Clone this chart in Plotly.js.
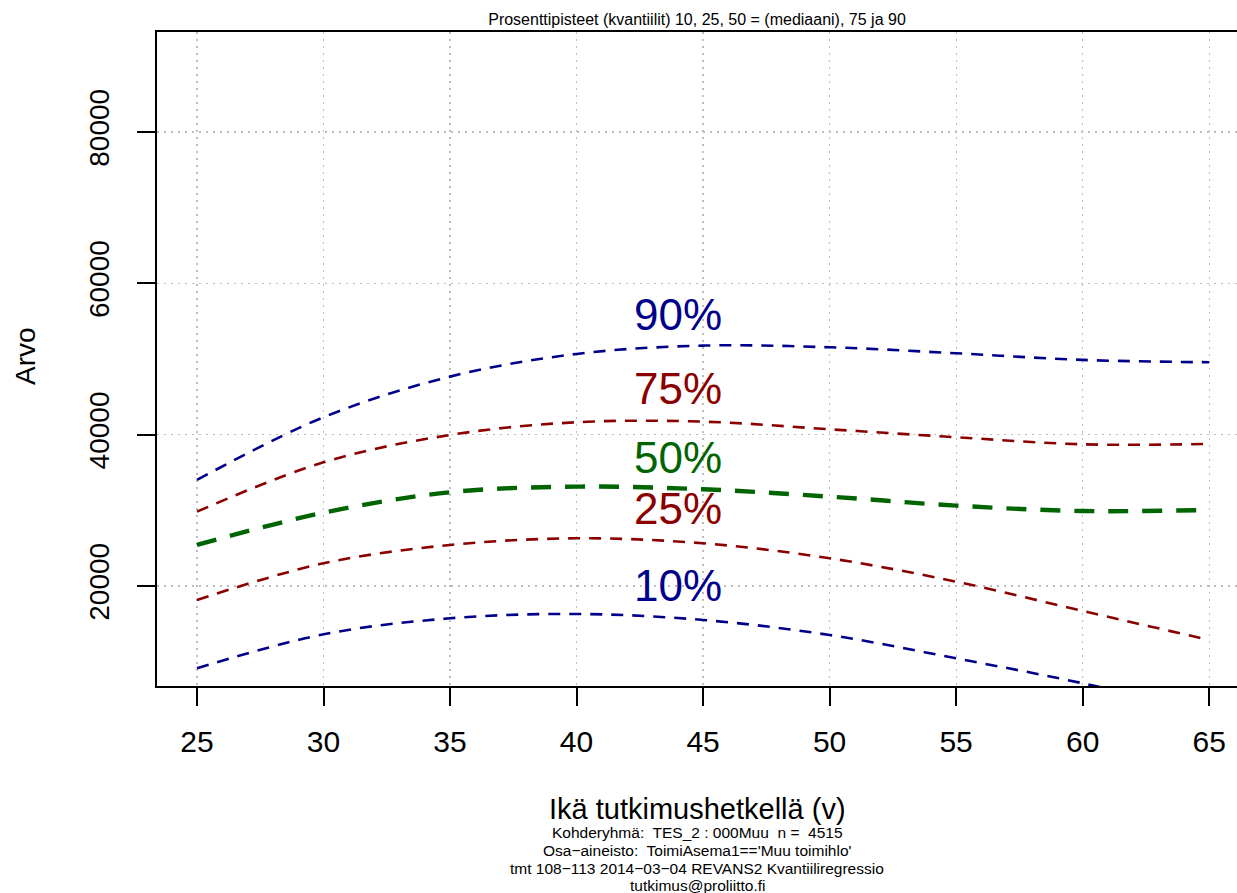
<!DOCTYPE html>
<html>
<head>
<meta charset="utf-8">
<script src="https://cdn.plot.ly/plotly-3.0.1.min.js"></script>
<style>html,body{margin:0;padding:0;background:#fff;}#chart{width:1237px;height:893px;}</style>
</head>
<body>
<div id="chart"></div>
<script>
// ---- data ----
const ages = [25, 30, 35, 40, 45, 50, 55, 60, 65];
const p90 = [34010, 42300, 47670, 50670, 51770, 51550, 50760, 49880, 49570];
const p75 = [29820, 36350, 39960, 41640, 41720, 40710, 39660, 38730, 38770];
const p50 = [25420, 29690, 32390, 33130, 32780, 31810, 30620, 29910, 30050];
const p25 = [18150, 23000, 25420, 26300, 25640, 23660, 20570, 16700, 12860];
const p10 = [9120, 13610, 15730, 16300, 15510, 13520, 10440, 7140, 3200];

const labelText = ['90%', '75%', '50%', '25%', '10%'];
const labelX = [44, 44, 44, 44, 44];
const labelY = [55820, 46040, 36990, 30180, 20000];

const xTicks = [25, 30, 35, 40, 45, 50, 55, 60, 65];
const yTicks = [20000, 40000, 60000, 80000];

const titleText = 'Prosenttipisteet (kvantiilit) 10, 25, 50 = (mediaani), 75 ja 90';
const xTitle = 'Ikä tutkimushetkellä (v)';
const yTitle = 'Arvo';
const footLines = [
  'Kohderyhmä:  TES_2 : 000Muu  n =  4515',
  "Osa\u2212aineisto:  ToimiAsema1=='Muu toimihlo'",
  'tmt 108\u2212113 2014\u221203\u221204 REVANS2 Kvantiiliregressio',
  'tutkimus@proliitto.fi'
];

// ---- styling ----
const BLUE = '#00008B', RED = '#8B0000', GREEN = '#006400';
const FONT = 'Liberation Sans, Arial, sans-serif';
const thinDash = '12px,9px';
const series = [
  {y: p90, color: BLUE, width: 2.6, dash: thinDash},
  {y: p75, color: RED, width: 2.6, dash: thinDash},
  {y: p50, color: GREEN, width: 4.4, dash: '20px,14px'},
  {y: p25, color: RED, width: 2.6, dash: thinDash},
  {y: p10, color: BLUE, width: 2.6, dash: thinDash}
];
const labelColors = [BLUE, RED, GREEN, RED, BLUE];

const traces = series.map(s => ({
  x: ages, y: s.y, type: 'scatter', mode: 'lines',
  line: {color: s.color, width: s.width, dash: s.dash, shape: 'spline', smoothing: 1},
  hoverinfo: 'skip', showlegend: false
}));

const annotations = labelText.map((t, i) => ({
  x: labelX[i], y: labelY[i], xref: 'x', yref: 'y', text: t, showarrow: false,
  xanchor: 'center', yanchor: 'middle',
  font: {family: FONT, size: 44, color: labelColors[i]}
}));

// axis titles and footnote lines (paper coordinates)
const plotLeft = 157, plotW = 1237 - 157;
const plotTop = 32, plotBottom = 686, plotH = plotBottom - plotTop;
const py = p => (plotBottom - p) / plotH;
const px = p => (p - plotLeft) / plotW;
annotations.push({
  x: 0.5, y: py(809), xref: 'paper', yref: 'paper', text: xTitle, showarrow: false,
  xanchor: 'center', yanchor: 'middle', font: {family: FONT, size: 29, color: '#000'}
});
const footY = [832, 850, 868, 885];
footLines.forEach((t, i) => annotations.push({
  x: 0.5, y: py(footY[i]), xref: 'paper', yref: 'paper', text: t, showarrow: false,
  xanchor: 'center', yanchor: 'middle', font: {family: FONT, size: 15.5, color: '#000'}
}));
annotations.push({
  x: px(25), y: py(356), xref: 'paper', yref: 'paper', text: yTitle, showarrow: false,
  textangle: -90, xanchor: 'center', yanchor: 'middle',
  font: {family: FONT, size: 28, color: '#000'}
});

const layout = {
  width: 1237, height: 893,
  margin: {l: plotLeft, r: 0, t: plotTop, b: 893 - plotBottom, pad: 0},
  paper_bgcolor: '#fff', plot_bgcolor: '#fff',
  title: {text: titleText, x: 0.5, xref: 'paper', xanchor: 'center', y: 1 - 19 / 893, yanchor: 'middle',
          font: {family: FONT, size: 16, color: '#000'}},
  showlegend: false,
  xaxis: {
    range: [23.42, 66.1], tickvals: xTicks, ticktext: xTicks.map(String),
    showline: true, linecolor: '#000', linewidth: 2, mirror: true,
    ticks: 'outside', ticklen: 18, tickwidth: 2, tickcolor: '#000',
    ticklabelstandoff: 10,
    tickfont: {family: FONT, size: 30, color: '#000'},
    showgrid: true, gridcolor: '#bcbcbc', gridwidth: 1.2, griddash: '1.5px,5.5px',
    zeroline: false, fixedrange: true
  },
  yaxis: {
    range: [6781, 93219], tickvals: yTicks, ticktext: yTicks.map(String),
    showline: true, linecolor: '#000', linewidth: 2, mirror: false,
    ticks: 'outside', ticklen: 18, tickwidth: 2, tickcolor: '#000',
    tickangle: -90, ticklabelstandoff: 17,
    tickfont: {family: FONT, size: 28, color: '#000'},
    showgrid: true, gridcolor: '#bcbcbc', gridwidth: 1.2, griddash: '1.5px,5.5px',
    zeroline: false, fixedrange: true
  },
  annotations: annotations
};

Plotly.newPlot('chart', traces, layout, {staticPlot: true, displayModeBar: false});
</script>
</body>
</html>
